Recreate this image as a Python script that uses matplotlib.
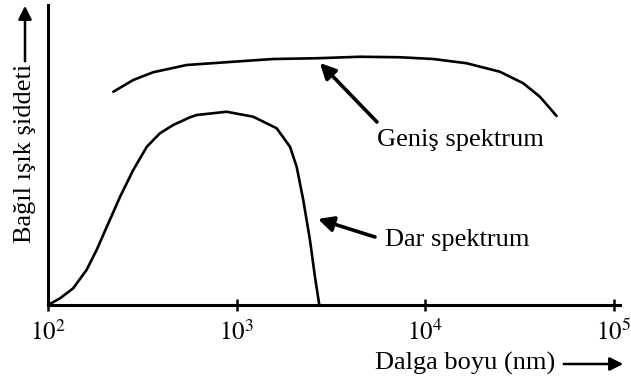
import numpy as np
import matplotlib
matplotlib.use("Agg")
import matplotlib.pyplot as plt

plt.rcParams['font.family'] = ['Liberation Serif', 'DejaVu Serif']
plt.rcParams['mathtext.fontset'] = 'stix'

# wavelength (nm) and relative intensity
genis_wl = [222, 283, 361, 543, 959, 1563, 2654, 4501, 7331, 11010, 16550, 24850, 33030, 40480, 49640]
genis_int = [0.853, 0.90, 0.931, 0.96, 0.973, 0.984, 0.987, 0.993, 0.991, 0.984, 0.967, 0.933, 0.887,
             0.833, 0.756]

dar_wl = [100, 116, 136, 160, 181, 205, 241, 283, 334, 392, 461, 566, 614, 885, 1225, 1629, 1917,
          2080, 2254, 2446, 2600, 2741]
dar_int = [0.0, 0.027, 0.067, 0.14, 0.22, 0.313, 0.433, 0.54, 0.633, 0.687, 0.72, 0.751, 0.76, 0.773,
           0.753, 0.707, 0.633, 0.553, 0.42, 0.26, 0.113, 0.0]

xticks = [1e2, 1e3, 1e4, 1e5]
xtick_labels = ['$10^{2}$', '$10^{3}$', '$10^{4}$', '$10^{5}$']

W, H = 631, 384
fig = plt.figure(figsize=(W / 100, H / 100), dpi=100)
ax = fig.add_axes([48 / W, (H - 305) / H, (620 - 48) / W, 300 / H])

ax.plot(genis_wl, genis_int, color='black', lw=1.9, solid_joinstyle='round', solid_capstyle='round')
ax.plot(dar_wl, dar_int, color='black', lw=1.9, solid_joinstyle='round', solid_capstyle='round')

ax.set_xscale('log')
ax.set_xlim(100, 10 ** (5 + 6 / 188.7))
ax.set_ylim(0, 1.2)

ax.spines['top'].set_visible(False)
ax.spines['right'].set_visible(False)
ax.spines['left'].set_linewidth(2.2)
ax.spines['bottom'].set_linewidth(2.2)
ax.set_yticks([])
ax.set_xticks(xticks)
ax.set_xticklabels(xtick_labels, fontsize=18)
ax.xaxis.set_minor_locator(matplotlib.ticker.NullLocator())
ax.tick_params(axis='x', direction='inout', length=9, width=1.8, pad=6)

arrow_kw = dict(arrowstyle='-|>', lw=2.6, mutation_scale=23, color='black', shrinkA=0, shrinkB=0)

# annotations
ax.annotate('', xy=(2763, 0.968), xytext=(5540, 0.732), arrowprops=arrow_kw)
ax.text(5540, 0.66, 'Geniş spektrum', fontsize=19, ha='left', va='center')

ax.annotate('', xy=(2697, 0.344), xytext=(5410, 0.272), arrowprops=arrow_kw)
ax.text(6110, 0.26, 'Dar spektrum', fontsize=19, ha='left', va='center')

# axis titles with arrows
fig.text(465 / W, 1 - 363 / H, 'Dalga boyu (nm)', fontsize=19, ha='center', va='center')
fig.add_artist(matplotlib.patches.FancyArrowPatch(
    (561 / W, 1 - 364 / H), (626 / W, 1 - 364 / H), transform=fig.transFigure,
    arrowstyle='-|>', lw=1.8, mutation_scale=20, color='black'))

fig.text(25 / W, 1 - 153 / H, 'Bağıl ışık şiddeti', fontsize=19, rotation=90, ha='center', va='center')
fig.add_artist(matplotlib.patches.FancyArrowPatch(
    (25 / W, 1 - 64 / H), (25 / W, 1 - 3 / H), transform=fig.transFigure,
    arrowstyle='-|>', lw=1.8, mutation_scale=20, color='black'))

fig.savefig('out.png', dpi=100)
